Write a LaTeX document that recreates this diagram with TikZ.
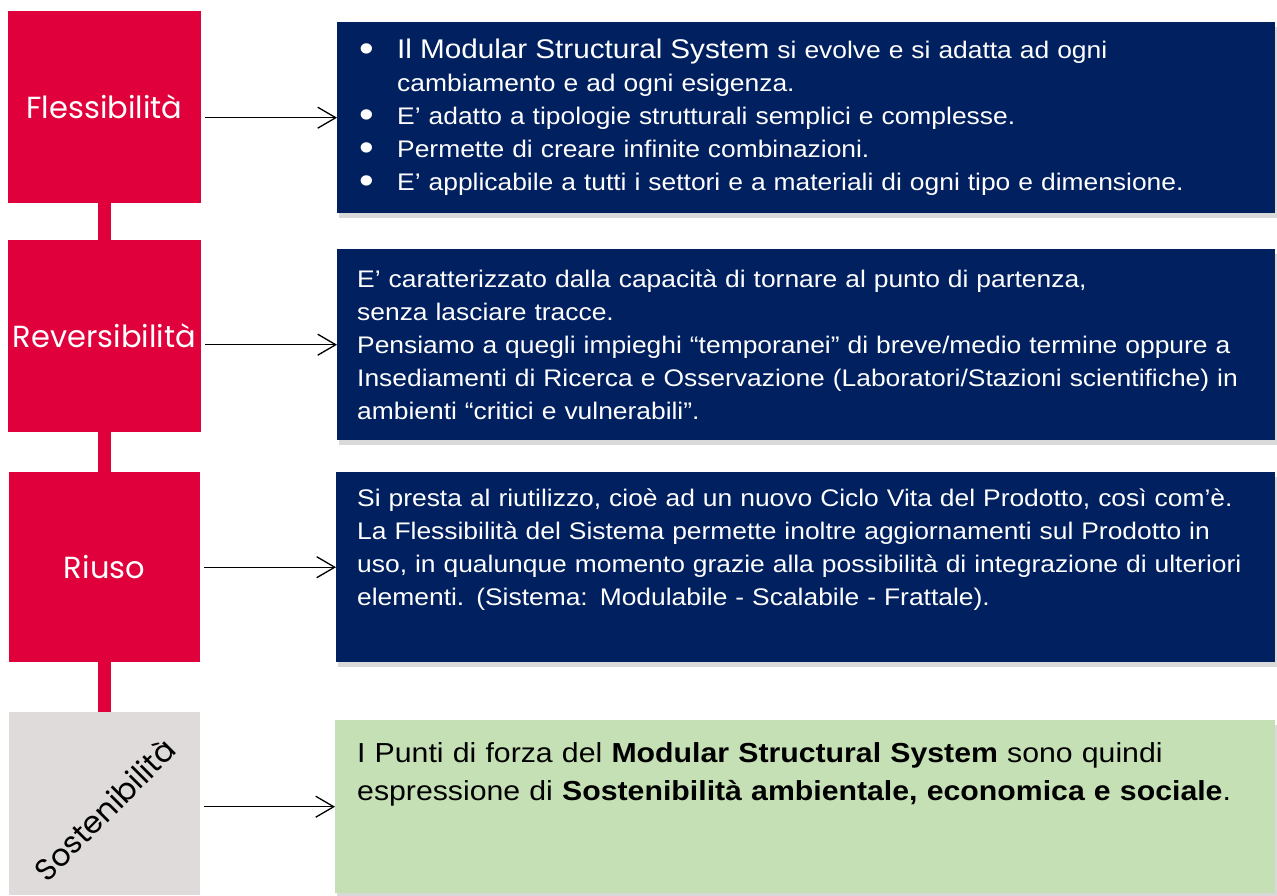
\documentclass[tikz,border=0pt]{standalone}
\usepackage{fontspec}
\setmainfont[FakeStretch=1.1]{Liberation Sans}
\newfontfamily\labelfont{Poppins}
\usetikzlibrary{positioning, arrows.meta, shadows}

\definecolor{crimson}{RGB}{224,0,60}
\definecolor{navy}{RGB}{0,32,96}
\definecolor{sage}{RGB}{197,224,180}
\definecolor{stone}{RGB}{223,219,219}

\newcommand{\bul}{\makebox[38pt][l]{\raisebox{-3pt}{\fontsize{38}{33}\selectfont\textbullet}}}
\newcommand{\ind}{\hspace*{38pt}}

\begin{document}
\begin{tikzpicture}[x=1pt, y=-1pt,
		square/.style={fill=crimson, text=white, inner sep=0pt, minimum width=193pt, minimum height=192pt, font=\labelfont\fontsize{30.5}{34}\selectfont},
		grey/.style={square, fill=stone, text=black},
		panel/.style={fill=navy, text=white, anchor=north west, align=left, inner ysep=0pt, inner xsep=20pt, text width=898pt, minimum height=191pt, font=\fontsize{24}{33}\selectfont, drop shadow={shadow xshift=2pt, shadow yshift=-5pt, opacity=0.3}},
		note/.style={panel, fill=sage, text=black, font=\fontsize{27.5}{38}\selectfont},
		stem/.style={draw=crimson, line width=13pt},
		arrow/.style={-{Straight Barb[length=18pt, width=21pt]}, line width=1.3pt, shorten <=4pt}
		]
		\useasboundingbox (0,0) rectangle (1277,895);
		
		% ==========================================
		% LEFT COLUMN: the four keywords
		% ==========================================
		\node[square] (fl) at (104.5,107) {Flessibilità};
		\node[square] (rv) at (104.5,336) {Reversibilità};
		\node[square, minimum width=191pt, minimum height=190pt] (ri) at (104.5,567) {Riuso};
		\node[grey, minimum width=191pt, minimum height=183pt] (so) at (104.5,803.5) {};
		\node[rotate=45, inner sep=0pt, font=\labelfont\fontsize{30.5}{34}\selectfont] (sotxt) at ([yshift=-6pt]so.center) {Sostenibilità};
		
		\draw[stem] (fl.south) -- (rv.north);
		\draw[stem] (rv.south) -- (ri.north);
		\draw[stem] (ri.south) -- (so.north);
		
		% ==========================================
		% RIGHT COLUMN: the descriptions
		% ==========================================
		\node[panel, inner xsep=22pt, text width=894pt] (bx1) at (337,22) {
			\bul{\fontsize{27}{33}\selectfont Il Modular Structural System} si evolve e si adatta ad ogni\\
			\ind cambiamento e ad ogni esigenza.\\
			\bul E’ adatto a tipologie strutturali semplici e complesse.\\
			\bul Permette di creare infinite combinazioni.\\
			\bul E’ applicabile a tutti i settori e a materiali di ogni tipo e dimensione.
		};
		\node[panel] (bx2) at (337,249) {
			E’ caratterizzato dalla capacità di tornare al punto di partenza,\\
			senza lasciare tracce.\\
			Pensiamo a quegli impieghi “temporanei” di breve/medio termine oppure a\\
			Insediamenti di Ricerca e Osservazione (Laboratori/Stazioni scientifiche) in\\
			ambienti “critici e vulnerabili”.
		};
		\node[panel, inner xsep=21pt, text width=897pt, minimum height=190pt] (bx3) at (336,472) {
			Si presta al riutilizzo, cioè ad un nuovo Ciclo Vita del Prodotto, così com’è.\\
			La Flessibilità del Sistema permette inoltre aggiornamenti sul Prodotto in\\
			uso, in qualunque momento grazie alla possibilità di integrazione di ulteriori\\
			elementi. (Sistema: Modulabile - Scalabile - Frattale).\\[8pt]
			\mbox{}
		};
		\node[note, inner xsep=22pt, text width=896pt, minimum height=173pt] (bx4) at (335,720) {
			I Punti di forza del \textbf{Modular Structural System} sono quindi\\
			espressione di \textbf{Sostenibilità ambientale, economica e sociale}.\\[-6pt]
			\mbox{}\\
			\mbox{}
		};
		
		% Horizontal arrows
		\draw[arrow] (fl.east |- bx1.west) -- (bx1.west);
		\draw[arrow] (rv.east |- bx2.west) -- (bx2.west);
		\draw[arrow] (ri.east |- bx3.west) -- (bx3.west);
		\draw[arrow] (so.east |- bx4.west) -- (bx4.west);
		
	\end{tikzpicture}
\end{document}
